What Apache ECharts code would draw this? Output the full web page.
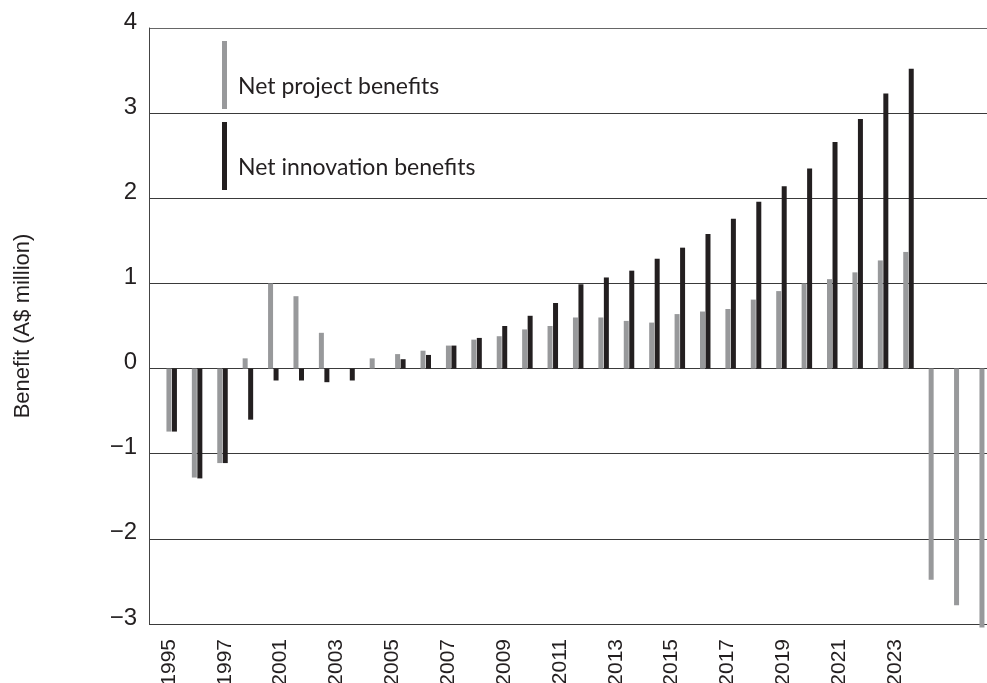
<!DOCTYPE html>
<html>
<head>
<meta charset="utf-8">
<script src="https://cdn.jsdelivr.net/npm/echarts@6/dist/echarts.min.js"></script>
<style>
html,body{margin:0;padding:0;background:#fff;}
#chart{width:987px;height:683px;}
</style>
</head>
<body>
<div id="chart"></div>
<script>
var years = [1995,1996,1997,1998,1999,2000,2001,2002,2003,2004,2005,2006,2007,2008,2009,2010,2011,2012,2013,2014,2015,2016,2017,2018,2019,2020,2021,2022,2023,2024,2025,2026,2027];
var projectBenefits = [-0.74,-1.28,-1.11,0.12,1.00,0.85,0.42,0,0.12,0.17,0.21,0.27,0.34,0.38,0.46,0.50,0.60,0.60,0.56,0.54,0.64,0.67,0.70,0.81,0.91,1.00,1.05,1.13,1.27,1.37,-2.48,-2.78,-3.04];
var innovationBenefits = [-0.74,-1.29,-1.11,-0.60,-0.14,-0.14,-0.16,-0.14,0,0.11,0.16,0.27,0.36,0.50,0.62,0.77,0.99,1.07,1.15,1.29,1.42,1.58,1.76,1.96,2.14,2.35,2.66,2.93,3.23,3.52,null,null,null];
var tickLabels = ['1995','1997','2001','2003','2005','2007','2009','2011','2013','2015','2017','2019','2021','2023'];
var seriesNames = ['Net project benefits','Net innovation benefits'];

var chart = echarts.init(document.getElementById('chart'), null, {renderer:'canvas'});
var textColor = '#231f20';
function pairs(vals){ return years.map(function(y,i){ return [y, vals[i]]; }); }

chart.setOption({
  backgroundColor:'#ffffff',
  animation:false,
  legend:{
    orient:'vertical',
    left:222, top:41, padding:0,
    itemWidth:5, itemHeight:68, itemGap:13,
    icon:'rect',
    data:seriesNames,
    formatter:function(n){ return '\n' + n; },
    textStyle:{fontFamily:'Lato', fontSize:23, lineHeight:24, color:textColor, padding:[0,0,0,6]}
  },
  grid:[
    {left:149, right:0, top:28, bottom:59, outerBoundsMode:'none', containLabel:false},
    {left:169, right:92, top:600, bottom:59, outerBoundsMode:'none', containLabel:false}
  ],
  xAxis:[
    {type:'value', gridIndex:0, min:1994.107, max:2027.09,
     axisLine:{show:false}, axisTick:{show:false}, axisLabel:{show:false}, splitLine:{show:false}},
    {type:'category', gridIndex:1, data:tickLabels, boundaryGap:false,
     axisLine:{show:false}, axisTick:{show:false}, splitLine:{show:false},
     axisLabel:{interval:0, rotate:90, margin:15, fontFamily:"'Liberation Sans Narrow','Arial Narrow','Liberation Sans',sans-serif", fontSize:21, color:textColor}}
  ],
  yAxis:[
    {type:'value', gridIndex:0, min:-3, max:4, interval:1,
     name:'Benefit (A$ million)', nameLocation:'middle', nameGap:115, nameRotate:90,
     nameTextStyle:{fontFamily:'Liberation Sans', fontSize:22, color:textColor},
     axisLine:{show:true, lineStyle:{color:'#444', width:1}},
     axisTick:{show:false},
     axisLabel:{margin:12, fontFamily:'Liberation Sans', fontSize:24, color:textColor,
       verticalAlign:'bottom', lineHeight:12,
       formatter:function(v){ return String(v).replace('-', '\u2212'); }},
     splitLine:{show:true, lineStyle:{color:['#3a3a3a','#3a3a3a','#3a3a3a','#3a3a3a','#3a3a3a','#3a3a3a','#3a3a3a','#666666'], width:1}}},
    {type:'value', gridIndex:1, show:false}
  ],
  series:[
    {name:seriesNames[0], type:'bar', xAxisIndex:0, yAxisIndex:0, data:pairs(projectBenefits),
     barWidth:5, barGap:'10%', clip:false, itemStyle:{color:'#98999b'}},
    {name:seriesNames[1], type:'bar', xAxisIndex:0, yAxisIndex:0, data:pairs(innovationBenefits),
     barWidth:5, barGap:'10%', clip:false, itemStyle:{color:'#231f20'}}
  ]
});
</script>
</body>
</html>
